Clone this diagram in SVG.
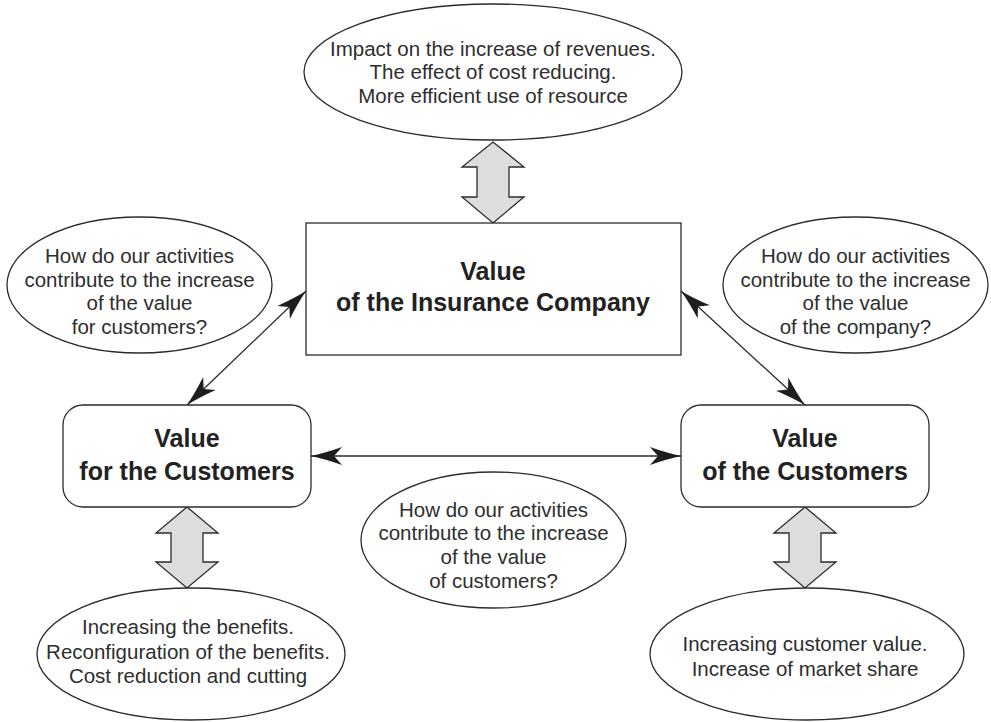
<svg xmlns="http://www.w3.org/2000/svg" width="991" height="722" viewBox="0 0 991 722">
<style>
  .shape { fill: #ffffff; stroke: #2b2b2b; stroke-width: 1.3; }
  .dbl { fill: #dcdddf; stroke: #2b2b2b; stroke-width: 1.3; stroke-linejoin: miter; }
  .conn { fill: none; stroke: #2b2b2b; stroke-width: 1.3; marker-start: url(#head); marker-end: url(#head); }
  .t { font-family: "Liberation Sans", Arial, sans-serif; font-size: 20.5px; fill: #2e2e2e; text-anchor: middle; }
  .h { font-family: "Liberation Sans", Arial, sans-serif; font-size: 25px; font-weight: bold; fill: #222222; text-anchor: middle; }
</style>
<defs>
  <marker id="head" markerUnits="userSpaceOnUse" viewBox="-32 -10 34 20" markerWidth="34" markerHeight="20" refX="0" refY="0" orient="auto-start-reverse" overflow="visible">
    <path d="M0,0 Q-14,-3 -31,-9 L-23,0 L-31,9 Q-14,3 0,0 Z" fill="#1e1e1e"/>
  </marker>
</defs>

<g id="connectors">
  <line class="conn" x1="187" y1="405" x2="306" y2="291"/>
  <line class="conn" x1="681" y1="291" x2="805" y2="405"/>
  <line class="conn" x1="311" y1="456" x2="681" y2="456"/>
  <polygon class="dbl" points="493,142 524,167 509,167 509,197 524,197 493,223 462,197 477,197 477,167 462,167"/>
  <polygon class="dbl" points="187,507 218,533 203,533 203,562 218,562 187,588 156,562 171,562 171,533 156,533"/>
  <polygon class="dbl" points="805,507 836,533 821,533 821,562 836,562 805,588 774,562 789,562 789,533 774,533"/>
</g>

<g id="top-ellipse">
  <ellipse class="shape" cx="493" cy="72" rx="189" ry="68"/>
  <text class="t" x="493" y="55.5">Impact on the increase of revenues.</text>
  <text class="t" x="493" y="79">The effect of cost reducing.</text>
  <text class="t" x="493" y="102.5">More efficient use of resource</text>
</g>

<g id="insurance-company">
  <rect class="shape" x="306" y="223" width="375" height="132"/>
  <text class="h" x="493" y="280">Value</text>
  <text class="h" x="493" y="311">of the Insurance Company</text>
</g>

<g id="left-question">
  <ellipse class="shape" cx="139.5" cy="285" rx="132.5" ry="68"/>
  <text class="t" x="139.5" y="263">How do our activities</text>
  <text class="t" x="139.5" y="286.5">contribute to the increase</text>
  <text class="t" x="139.5" y="310">of the value</text>
  <text class="t" x="139.5" y="333.5">for customers?</text>
</g>

<g id="right-question">
  <ellipse class="shape" cx="855.5" cy="285" rx="132.5" ry="68"/>
  <text class="t" x="855.5" y="263">How do our activities</text>
  <text class="t" x="855.5" y="286.5">contribute to the increase</text>
  <text class="t" x="855.5" y="310">of the value</text>
  <text class="t" x="855.5" y="333.5">of the company?</text>
</g>

<g id="value-for-customers">
  <rect class="shape" x="63" y="405" width="248" height="102" rx="20" ry="20"/>
  <text class="h" x="187" y="447">Value</text>
  <text class="h" x="187" y="480">for the Customers</text>
</g>

<g id="value-of-customers">
  <rect class="shape" x="681" y="405" width="248" height="102" rx="20" ry="20"/>
  <text class="h" x="805" y="447">Value</text>
  <text class="h" x="805" y="480">of the Customers</text>
</g>

<g id="middle-question">
  <ellipse class="shape" cx="493.5" cy="540" rx="132.5" ry="68"/>
  <text class="t" x="493.5" y="516.5">How do our activities</text>
  <text class="t" x="493.5" y="540">contribute to the increase</text>
  <text class="t" x="493.5" y="564">of the value</text>
  <text class="t" x="493.5" y="587.5">of customers?</text>
</g>

<g id="bottom-left-ellipse">
  <ellipse class="shape" cx="191" cy="654" rx="154" ry="66"/>
  <text class="t" x="188" y="634">Increasing the benefits.</text>
  <text class="t" x="188" y="658.5">Reconfiguration of the benefits.</text>
  <text class="t" x="188" y="683">Cost reduction and cutting</text>
</g>

<g id="bottom-right-ellipse">
  <ellipse class="shape" cx="807" cy="654" rx="157" ry="66"/>
  <text class="t" x="805" y="651">Increasing customer value.</text>
  <text class="t" x="805" y="676">Increase of market share</text>
</g>
</svg>
